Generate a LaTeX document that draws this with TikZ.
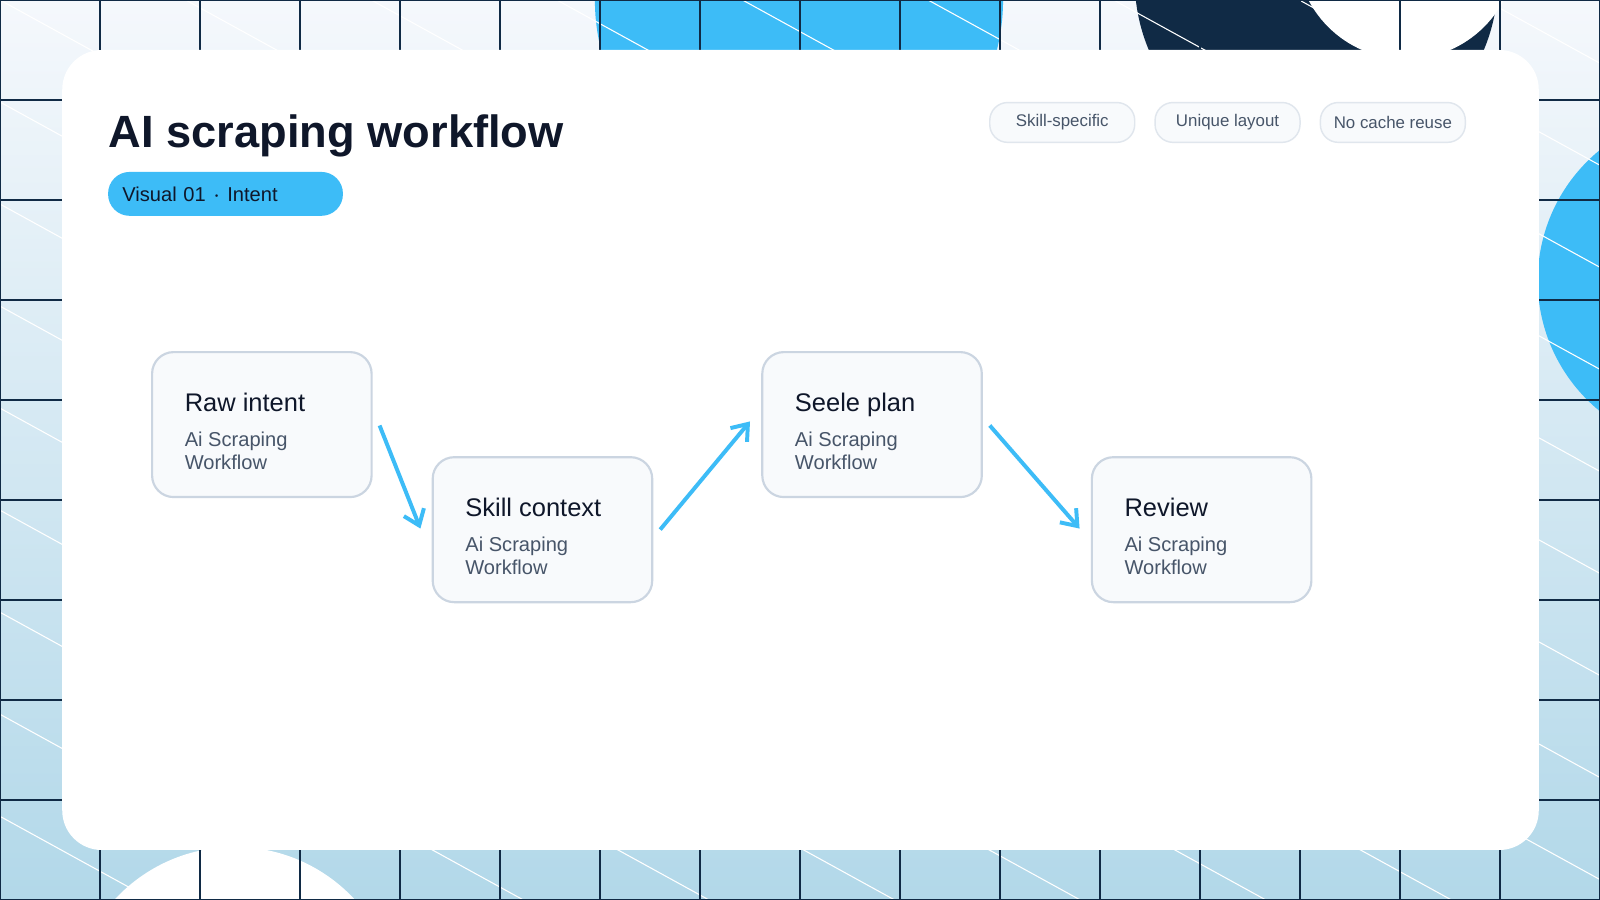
\documentclass[tikz,border=0pt]{standalone}
\usepackage{fontspec}
\setmainfont{Liberation Sans}
\usetikzlibrary{arrows.meta}
\definecolor{ink}{HTML}{0F172A}
\definecolor{navy}{HTML}{102A45}
\definecolor{sky}{HTML}{3DBCF7}
\definecolor{muted}{HTML}{475569}
\definecolor{edge}{HTML}{CBD5E1}
\definecolor{pane}{HTML}{F8FAFC}
\definecolor{bgtop}{HTML}{F5F8FC}
\definecolor{bgbot}{HTML}{B2D8E9}
\tikzset{
  stepcard/.style={draw=edge, line width=0.6pt, fill=pane, rounded corners=6pt,
    minimum width=2.15cm, minimum height=1.42cm, anchor=north west, inner sep=0pt},
  tagpill/.style={draw=edge!60, fill=pane, rounded corners=5pt, minimum width=1.42cm,
    minimum height=0.39cm, text=muted, font=\fontsize{4.7pt}{5pt}\selectfont},
  flow/.style={sky, line width=1.1pt, -{Straight Barb[length=4pt,width=6pt]}},
}
\newcommand{\cardtext}[1]{%
  \hspace*{0.29cm}\begin{minipage}[t][1.42cm][t]{1.8cm}\vspace{0.4cm}%
  {\fontsize{7.1pt}{8pt}\selectfont\color{ink}#1}\par\vspace{0.12cm}%
  {\fontsize{5.6pt}{6.4pt}\selectfont\color{muted}Ai Scraping\\Workflow\par}\end{minipage}}
\begin{document}
\begin{tikzpicture}[x=0.01cm,y=-0.01cm]
\useasboundingbox (0,0) rectangle (1568,882);

% background
\begin{scope}
\clip (0,0) rectangle (1568,882);
\shade[top color=bgtop, bottom color=bgbot] (0,0) rectangle (1568,882);
\fill[sky] (783,0) circle (200);
\fill[navy] (1290,-20) circle (178);
\fill[white] (1378,-50) circle (108);
\fill[sky] (1672,275) circle (165);
\fill[white] (230,990) circle (160);
\foreach \c in {-1000,-900,...,900}
  \draw[white, line width=0.3pt] (0,{\c+0}) -- (1568,{\c+862});
\foreach \x in {0,98,...,1568}
  \draw[navy, line width=0.3pt] (\x,0) -- (\x,882);
\foreach \y in {0,98,...,882}
  \draw[navy, line width=0.3pt] (0,\y) -- (1568,\y);
\end{scope}

% card
\fill[white, rounded corners=11pt] (61,49) rectangle (1508,833);

\node[anchor=base west, inner sep=0pt, font=\bfseries\fontsize{12.6pt}{14pt}\selectfont, text=ink]
  (title) at (106,145) {AI scraping workflow};
\node[fill=sky, rounded corners=6pt, minimum width=2.3cm, minimum height=0.43cm,
  text width=2.02cm, font=\fontsize{5.6pt}{6pt}\selectfont, text=ink] (badge) at (221,190)
  {Visual 01 $\cdot$ Intent};

\node[tagpill] (tag1) at (1041,120) {Skill-specific};
\node[tagpill] (tag2) at (1203,120) {Unique layout};
\node[tagpill] (tag3) at (1365,120) {No cache reuse};

% steps
\node[stepcard] (raw) at (148,344) {\cardtext{Raw intent}};
\node[stepcard] (skill) at (423,447) {\cardtext{Skill context}};
\node[stepcard] (plan) at (746,344) {\cardtext{Seele plan}};
\node[stepcard] (review) at (1069,447) {\cardtext{Review}};

\coordinate (a1) at (372,417);
\coordinate (b1) at (412,518);
\coordinate (a2) at (647,519);
\coordinate (b2) at (735,413);
\coordinate (a3) at (970,417);
\coordinate (b3) at (1058,518);
\draw[flow] (a1) -- (b1);
\draw[flow] (a2) -- (b2);
\draw[flow] (a3) -- (b3);
\end{tikzpicture}
\end{document}
